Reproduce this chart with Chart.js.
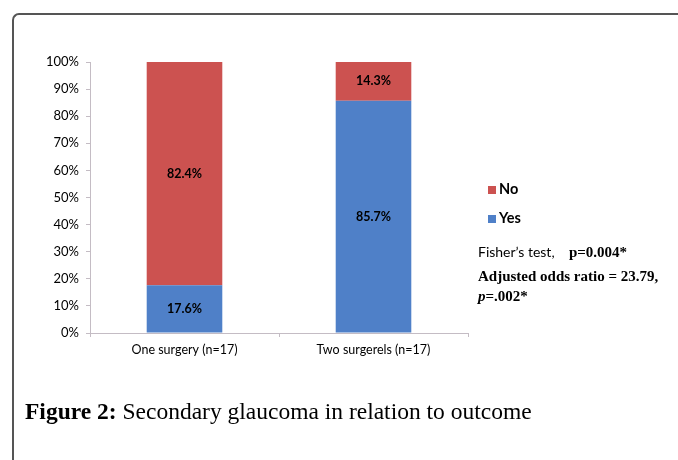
<!DOCTYPE html>
<html>
<head>
<meta charset="utf-8">
<script src="https://cdn.jsdelivr.net/npm/chart.js@4"></script>
<style>
  body { margin: 0; background: #fff; }
  #wrap { position: relative; width: 678px; height: 460px; overflow: hidden; }
  #frame { position: absolute; left: 12px; top: 13px; width: 700px; height: 500px;
           border-top: 2px solid #555; border-left: 2px solid #555; border-top-left-radius: 7px; }
  #c { position: absolute; left: 0; top: 0; }
  #legend { position: absolute; left: 488px; top: 179px; font-family: Lato, sans-serif; font-weight: bold; font-size: 14.5px; color: #000; }
  #legend div { height: 29px; line-height: 20px; }
  #legend span.box { display: inline-block; width: 8px; height: 8px; margin-right: 3px; vertical-align: 0px; }
  #stats { position: absolute; left: 478px; top: 243px; color: #000; }
  .sans { font-family: Lato, sans-serif; font-size: 14px; }
  .ser { font-family: "Liberation Serif", serif; font-weight: bold; font-size: 15px; }
  #caption { position: absolute; left: 25px; top: 398px; font-family: "Liberation Serif", serif; font-size: 23.5px; color: #000; }
</style>
</head>
<body>
<div id="wrap">
  <div id="frame"></div>
  <canvas id="c" width="678" height="460"></canvas>
  <div id="legend"></div>
  <div id="stats">
    <div style="height:24px"><span class="sans">Fisher’s test,&nbsp;&nbsp;&nbsp; </span><span class="ser">p=0.004*</span></div>
    <div class="ser" style="line-height:19.5px">Adjusted odds ratio = 23.79,<br><i>p</i>=.002*</div>
  </div>
  <div id="caption"><b>Figure 2:</b> Secondary glaucoma in relation to outcome</div>
</div>
<script>
// categorias
var categories = ['One surgery (n=17)', 'Two surgerels (n=17)']
// porcentajes
var yesValues = [17.6, 85.7]
var noValues = [82.4, 14.3]
var yTicks = [0, 10, 20, 30, 40, 50, 60, 70, 80, 90, 100]

var red = '#cc5250'
var blue = '#4f80c8'

// etiquetas dentro de las barras
var barLabels = {
  id: 'barLabels',
  afterDatasetsDraw: function(chart) {
    var ctx = chart.ctx
    ctx.save()
    ctx.font = 'bold 12.5px Lato, sans-serif'
    ctx.fillStyle = '#000'
    ctx.textAlign = 'center'
    ctx.textBaseline = 'middle'
    chart.data.datasets.forEach(function(ds, i) {
      chart.getDatasetMeta(i).data.forEach(function(bar, j) {
        var p = bar.getCenterPoint()
        ctx.fillText(ds.data[j].toFixed(1) + '%', p.x, p.y)
      })
    })
    ctx.restore()
  }
}

var ctx = document.getElementById('c').getContext('2d')
var myChart = new Chart(ctx, {
  type: 'bar',
  data: {
    labels: categories,
    datasets: [
      { label: 'Yes', data: yesValues, backgroundColor: blue },
      { label: 'No', data: noValues, backgroundColor: red }
    ]
  },
  options: {
    responsive: false,
    animation: false,
    layout: { padding: { left: 0, top: 62, right: 210, bottom: 0 } },
    datasets: { bar: { categoryPercentage: 1, barPercentage: 0.4 } },
    plugins: { legend: { display: false }, tooltip: { enabled: false } },
    scales: {
      x: {
        stacked: true,
        afterFit: function(s) { s.height = 127 },
        border: { color: '#c4bcc4', width: 1 },
        grid: { offset: true, drawOnChartArea: false, color: '#c4bcc4', tickLength: 4 },
        ticks: { color: '#000', font: { family: 'Lato', size: 12.5 }, padding: 5 }
      },
      y: {
        stacked: true,
        min: 0, max: 100,
        afterFit: function(s) { s.width = 90 },
        afterBuildTicks: function(s) { s.ticks = yTicks.map(function(v) { return { value: v } }) },
        border: { color: '#c4bcc4', width: 1 },
        grid: { drawOnChartArea: false, color: '#c4bcc4', tickLength: 4 },
        ticks: { color: '#000', font: { family: 'Lato', size: 13 }, padding: 7,
                 callback: function(v) { return v + '%' } }
      }
    }
  },
  plugins: [barLabels]
})

// leyenda (No arriba, Yes abajo)
var leg = document.getElementById('legend')
myChart.data.datasets.slice().reverse().forEach(function(ds) {
  var d = document.createElement('div')
  d.innerHTML = '<span class="box" style="background:' + ds.backgroundColor + '"></span>' + ds.label
  leg.appendChild(d)
})
</script>
</body>
</html>
